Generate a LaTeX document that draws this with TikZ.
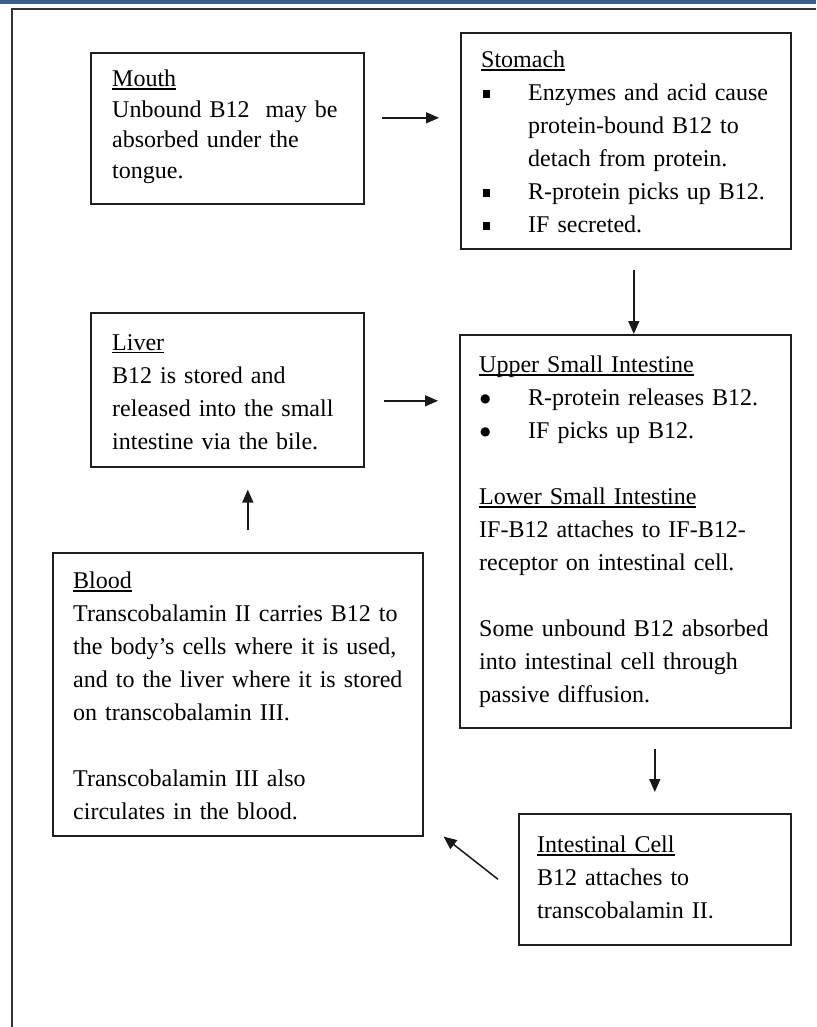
\documentclass[tikz,border=0pt]{standalone}
\usepackage{fontspec}
\setmainfont{Liberation Serif}
\newfontfamily\symfont{DejaVu Sans}
\usetikzlibrary{arrows.meta}
\definecolor{barblue}{RGB}{59,94,145}
\newcommand{\boxtitle}[1]{\leavevmode\setbox0\hbox{#1}\rlap{\rule[-3pt]{\wd0}{1.4pt}}\box0}
\newcommand{\sqbul}{\makebox[47pt][l]{\hspace{2pt}\rule[3pt]{7pt}{8pt}}}
\newcommand{\rdbul}{\makebox[49pt][l]{\hspace{1pt}\raisebox{3pt}{\symfont\fontsize{12}{12}\selectfont ●}}}
\newcommand{\hangin}{\hspace*{47pt}}
\tikzset{
  organ/.style={draw=black!88,line width=1.6pt,anchor=north west,inner sep=0pt},
  organtext/.style={anchor=north west,inner sep=0pt,text width=320pt,align=left,font=\fontsize{24}{33}\selectfont},
  flow/.style={-{Triangle[length=13pt,width=11pt]},line width=1.5pt,black!90}
}
\begin{document}
\begin{tikzpicture}[x=1pt,y=-1pt]
\path[use as bounding box] (0,0) rectangle (816,1027);
\fill[barblue] (0,0) rectangle (816,4);
\draw[black!80,line width=2pt] (12,1027) -- (12,9) -- (816,9);
\node[organ,minimum width=273pt,minimum height=151pt] (mouth) at (90,52) {};
\node[organ,minimum width=330pt,minimum height=216pt] (stomach) at (460,32) {};
\node[organ,minimum width=273pt,minimum height=154pt] (liver) at (90,312) {};
\node[organ,minimum width=331pt,minimum height=393pt] (usi) at (459,334) {};
\node[organ,minimum width=370pt,minimum height=283pt] (blood) at (52,552) {};
\node[organ,minimum width=272pt,minimum height=131pt] (intestinal) at (518,813) {};
\node[organtext,font=\fontsize{24}{30.5}\selectfont] (mouth-text) at (112,70) {\boxtitle{Mouth}\\
Unbound B12\ \ may be\\
absorbed under the\\
tongue.};
\node[organtext] (stomach-text) at (481,51) {\boxtitle{Stomach}\\
\sqbul Enzymes and acid cause\\
\hangin protein-bound B12 to\\
\hangin detach from protein.\\
\sqbul R-protein picks up B12.\\
\sqbul IF secreted.};
\node[organtext] (liver-text) at (112,334) {\boxtitle{Liver}\\
B12 is stored and\\
released into the small\\
intestine via the bile.};
\node[organtext] (usi-text) at (479,356) {\boxtitle{Upper Small Intestine}\\
\rdbul R-protein releases B12.\\
\rdbul IF picks up B12.\\[33pt]
\boxtitle{Lower Small Intestine}\\
IF-B12 attaches to IF-B12-\\
receptor on intestinal cell.\\[33pt]
Some unbound B12 absorbed\\
into intestinal cell through\\
passive diffusion.};
\node[organtext,text width=340pt] (blood-text) at (73,572) {\boxtitle{Blood}\\
Transcobalamin II carries B12 to\\
the body's cells where it is used,\\
and to the liver where it is stored\\
on transcobalamin III.\\[33pt]
Transcobalamin III also\\
circulates in the blood.};
\node[organtext] (intestinal-text) at (537,836) {\boxtitle{Intestinal Cell}\\
B12 attaches to\\
transcobalamin II.};
\draw[flow,shorten <=17pt,shorten >=21pt] ([yshift=10.5pt]mouth.east) -- ([yshift=10.5pt]mouth.east -| stomach.west);
\draw[flow,shorten <=20pt] ([xshift=8pt]stomach.south) -- ([xshift=8pt]stomach.south |- usi.north);
\draw[flow,shorten <=19pt,shorten >=21pt] ([yshift=-11pt]liver.east) -- ([yshift=-11pt]liver.east -| usi.west);
\draw[flow,shorten <=22pt,shorten >=22pt] ([xshift=10pt]blood.north) -- ([xshift=10pt]blood.north |- liver.south);
\draw[flow,shorten <=20pt,shorten >=21pt] (usi.south -| intestinal.north) -- (intestinal.north);
\draw[flow] ([xshift=-20pt]intestinal.west) -- ([xshift=20pt]blood.south east);
\end{tikzpicture}
\end{document}
